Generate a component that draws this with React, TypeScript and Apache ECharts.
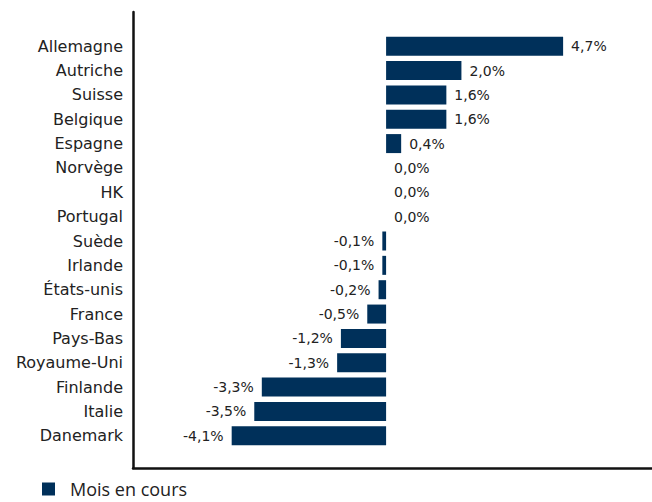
import React, { useEffect, useRef } from "react";
import * as echarts from "echarts";

const categories = [
  "Allemagne", "Autriche", "Suisse", "Belgique", "Espagne", "Norvège", "HK", "Portugal",
  "Suède", "Irlande", "États-unis", "France", "Pays-Bas", "Royaume-Uni", "Finlande", "Italie", "Danemark",
];
const values = [4.7, 2.0, 1.6, 1.6, 0.4, 0.0, 0.0, 0.0, -0.1, -0.1, -0.2, -0.5, -1.2, -1.3, -3.3, -3.5, -4.1];
const seriesName = "Mois en cours";

const BAR_COLOR = "#00305a";
const TEXT_COLOR = "#222222";
const LABEL_FONT = "'DejaVu Sans', sans-serif";

export default function App() {
  const ref = useRef<HTMLDivElement>(null);
  useEffect(() => {
    if (!ref.current) return;
    const chart = echarts.init(ref.current, null, { renderer: "svg" });
    const fmt = (v: number) => v.toFixed(1).replace(".", ",") + "%";
    chart.setOption({
      animation: false,
      grid: [
        { left: 133, right: 0, top: 34, height: 414, containLabel: false },
        { left: 133, right: 0, top: 12, bottom: 34, containLabel: false },
      ],
      legend: {
        data: [seriesName],
        left: 37,
        top: 475,
        padding: 5,
        icon: "rect",
        itemWidth: 13,
        itemHeight: 13,
        itemGap: 10,
        textStyle: {
          fontFamily: "'Open Sans', sans-serif",
          fontSize: 18,
          lineHeight: 18,
          color: TEXT_COLOR,
          padding: [0, 0, 0, 10],
        },
      },
      xAxis: [
        {
          gridIndex: 0,
          type: "value",
          min: -6.72,
          max: 7.06,
          show: false,
        },
        {
          gridIndex: 1,
          type: "value",
          min: 0,
          max: 1,
          axisLine: { show: true, lineStyle: { color: "#111", width: 2.5 } },
          axisTick: { show: false },
          axisLabel: { show: false },
          splitLine: { show: false },
        },
      ],
      yAxis: [
        {
          gridIndex: 0,
          type: "category",
          data: categories,
          inverse: true,
          axisLine: { show: false },
          axisTick: { show: false },
          splitLine: { show: false },
          axisLabel: {
            margin: 10,
            color: TEXT_COLOR,
            fontFamily: LABEL_FONT,
            fontSize: 16,
          },
        },
        {
          gridIndex: 1,
          type: "value",
          min: 0,
          max: 1,
          axisLine: { show: true, lineStyle: { color: "#111", width: 2.5 } },
          axisTick: { show: false },
          axisLabel: { show: false },
          splitLine: { show: false },
        },
      ],
      series: [
        {
          name: seriesName,
          type: "bar",
          xAxisIndex: 0,
          yAxisIndex: 0,
          barWidth: 19,
          itemStyle: { color: BAR_COLOR },
          data: values.map((v) => ({
            value: v,
            label: {
              show: true,
              position: v < 0 ? "left" : "right",
              distance: 8,
              formatter: () => fmt(v),
              color: TEXT_COLOR,
              fontFamily: LABEL_FONT,
              fontSize: 14,
            },
          })),
        },
      ],
    });
    return () => chart.dispose();
  }, []);
  return (
    <div
      ref={ref}
      style={{ position: "fixed", left: 0, top: 0, width: 652, height: 502, background: "#fff" }}
    />
  );
}
